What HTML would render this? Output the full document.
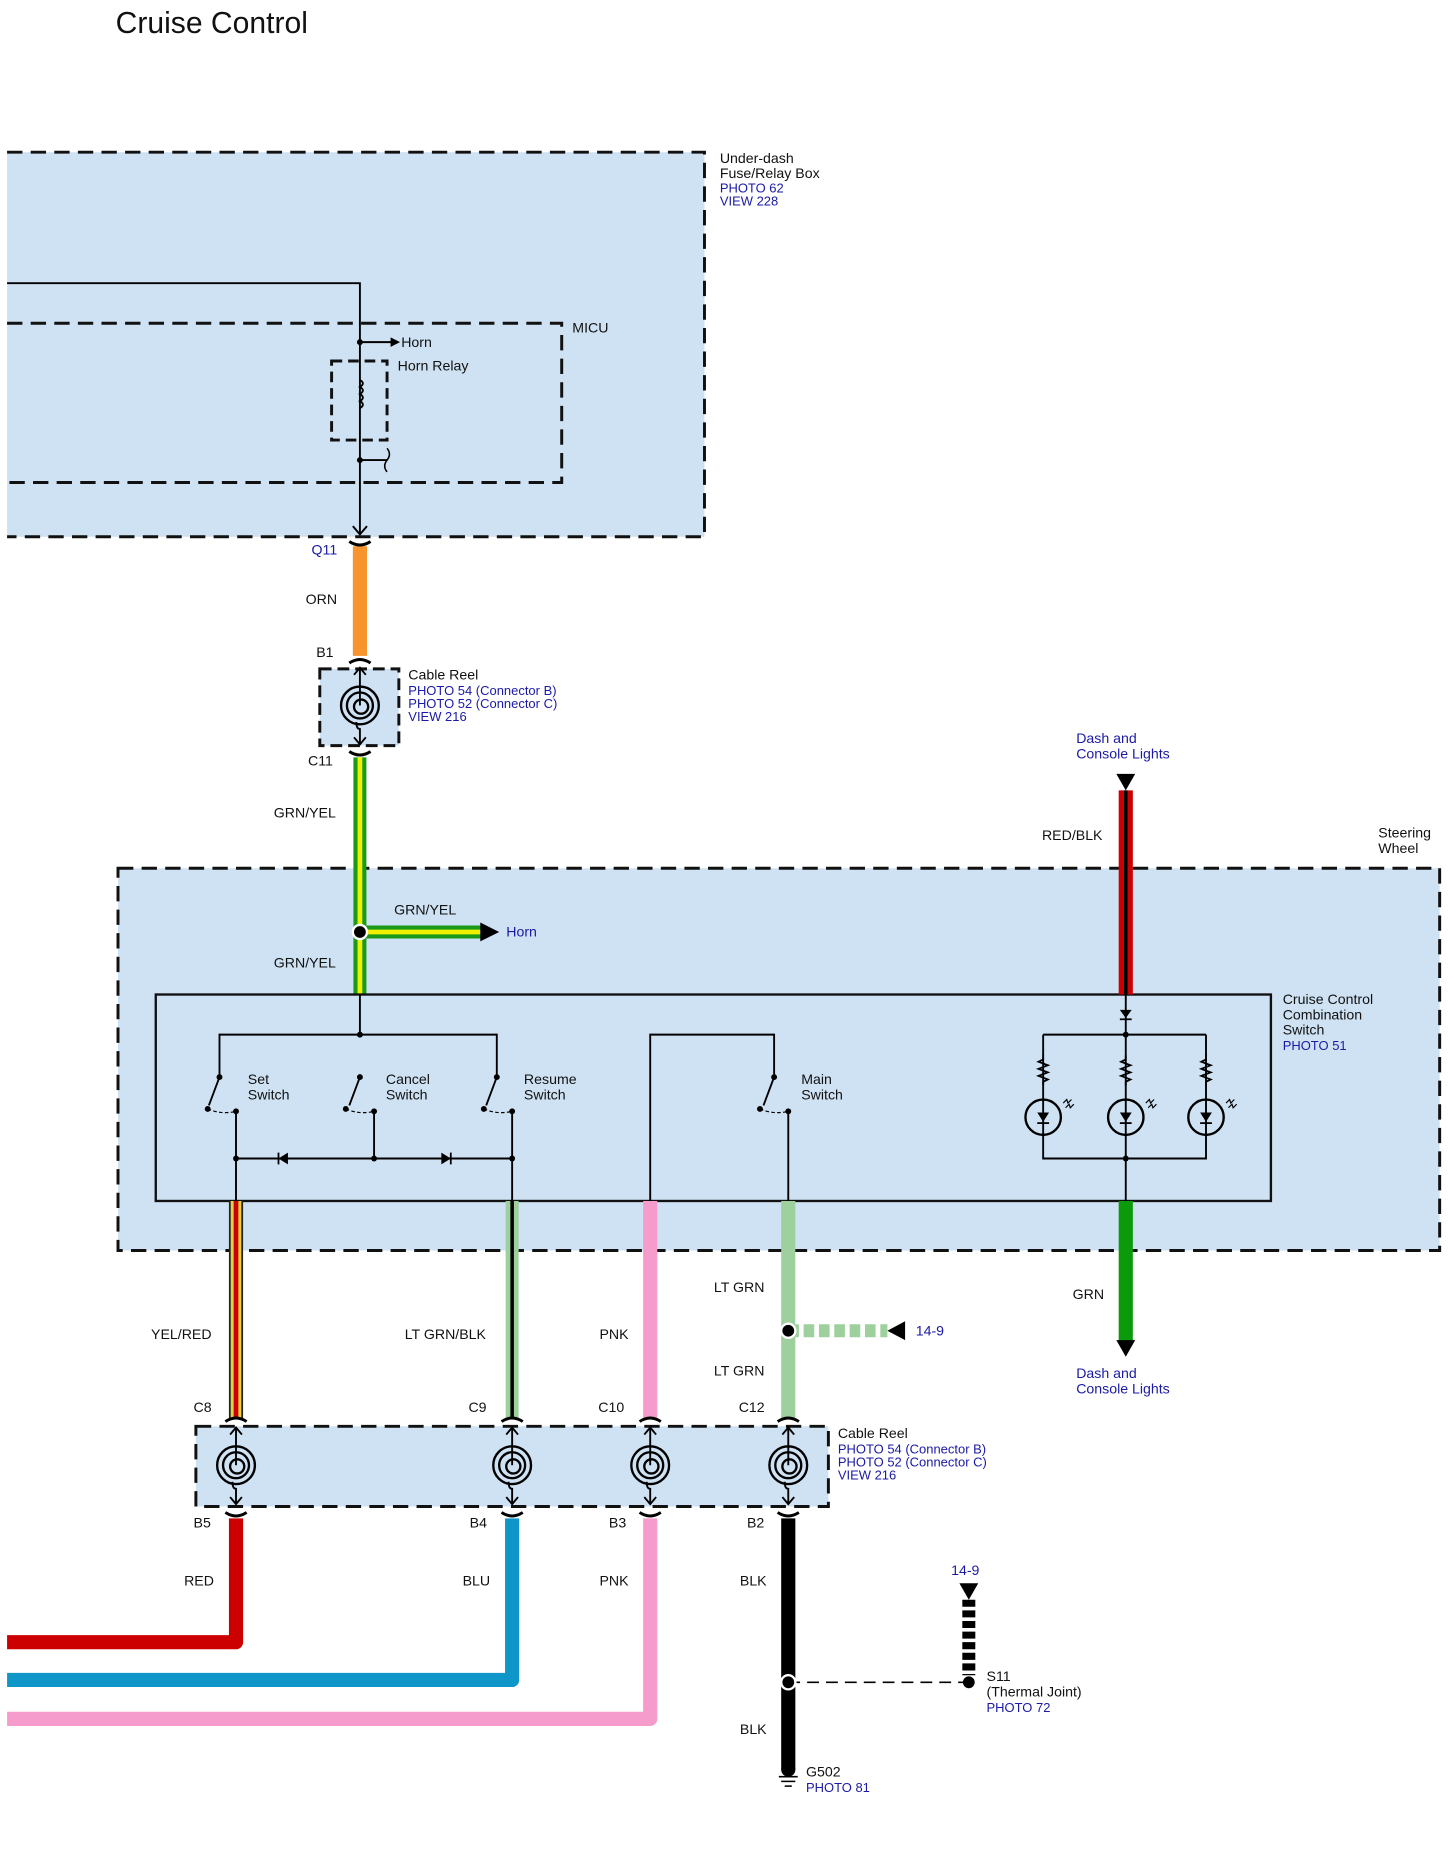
<!DOCTYPE html>
<html><head><meta charset="utf-8"><style>
html,body{margin:0;padding:0;background:#fff}
svg{display:block}
text{font-family:"Liberation Sans",sans-serif;font-size:12px;fill:#111}
.b{fill:#1a1aa6;font-size:11px}
.bb{fill:#1a1aa6}
</style></head><body>
<svg width="1455" height="1851" viewBox="0 0 1233 1569" preserveAspectRatio="none" xmlns="http://www.w3.org/2000/svg">
<defs>
<g id="reel">
<circle r="16" fill="none" stroke="#000" stroke-width="2"/>
<circle r="11" fill="none" stroke="#000" stroke-width="2"/>
<circle cx="1" cy="1" r="6" fill="none" stroke="#000" stroke-width="2"/>
<line x1="0" y1="-32" x2="0" y2="0" stroke="#000" stroke-width="1.6"/>
<path d="M-5,-26 L0,-32 L5,-26" fill="none" stroke="#000" stroke-width="1.6"/>
<path d="M-3,14 Q-3,20 0,20 L0,33" fill="none" stroke="#000" stroke-width="1.6"/>
<path d="M-5,27 L0,33 L5,27" fill="none" stroke="#000" stroke-width="1.6"/>
</g>
<g id="cup"><path d="M-9,-3 Q0,3 9,-3" fill="none" stroke="#000" stroke-width="2.5"/></g>
<g id="lamp">
<circle r="15" fill="none" stroke="#000" stroke-width="2"/>
<path d="M-5,-4 L5,-4 L0,4 Z" fill="#000"/><line x1="-5" y1="5" x2="5" y2="5" stroke="#000" stroke-width="1.5"/>
<path d="M17,-12 l3,-3 l1,3 l3,-3 M19,-8 l3,-3 l1,3 l3,-3" fill="none" stroke="#000" stroke-width="1"/>
</g>
<g id="res"><path d="M0,0 l0,4 l-4,2 l8,3 l-8,3 l8,3 l-8,3 l8,3 l-4,2 l0,3" fill="none" stroke="#000" stroke-width="1.5"/></g>
</defs>

<text x="98" y="28" style="font-size:25.5px">Cruise Control</text>

<!-- fuse box -->
<rect x="6" y="129" width="591" height="326" fill="#cfe2f3"/>
<path d="M6,129 H597 V455 H6" fill="none" stroke="#111" stroke-width="2.5" stroke-dasharray="13,7"/>
<text x="610" y="138">Under-dash</text>
<rect x="608" y="141" width="95" height="13" fill="#fff"/>
<text x="610" y="151">Fuse/Relay Box</text>
<text x="610" y="163" class="b">PHOTO 62</text>
<text x="610" y="174" class="b">VIEW 228</text>
<path d="M6,274 H476 V409 H6" fill="none" stroke="#111" stroke-width="2.5" stroke-dasharray="13,7"/>
<text x="485" y="282">MICU</text>
<path d="M6,240 H305 V453" fill="none" stroke="#000" stroke-width="1.6"/>
<path d="M299,446 L305,453 L311,446" fill="none" stroke="#000" stroke-width="1.6"/>
<circle cx="305" cy="290" r="2.5"/>
<line x1="305" y1="290" x2="332" y2="290" stroke="#000" stroke-width="1.6"/>
<path d="M331,286 L339,290 L331,294Z"/>
<text x="340" y="294">Horn</text>
<rect x="281" y="306" width="47" height="67" fill="none" stroke="#111" stroke-width="2.5" stroke-dasharray="9,5"/>
<text x="337" y="314">Horn Relay</text>
<path d="M305,322 q5,3 0,6 q5,3 0,6 q5,3 0,6 q5,3 0,6" fill="none" stroke="#000" stroke-width="1.6"/>
<circle cx="305" cy="390" r="2.5"/>
<line x1="305" y1="390" x2="328" y2="390" stroke="#000" stroke-width="1.6"/>
<path d="M328,380 q4,5 0,10 q-4,5 0,10" fill="none" stroke="#000" stroke-width="1.3"/>

<text x="264" y="470" class="bb">Q11</text>
<line x1="305" y1="463" x2="305" y2="556" stroke="#f7942d" stroke-width="12"/>
<use href="#cup" x="305" y="462"/>
<text x="259" y="512">ORN</text>
<text x="268" y="557">B1</text>
<use href="#cup" transform="translate(305,559) scale(1,-1)"/>
<rect x="271" y="567" width="67" height="65" fill="#cfe2f3" stroke="#111" stroke-width="2.5" stroke-dasharray="10,5"/>
<use href="#reel" x="305" y="598"/>
<text x="346" y="576">Cable Reel</text>
<text x="346" y="589" class="b">PHOTO 54 (Connector B)</text>
<text x="346" y="600" class="b">PHOTO 52 (Connector C)</text>
<text x="346" y="611" class="b">VIEW 216</text>
<use href="#cup" x="305" y="640"/>
<text x="261" y="649">C11</text>
<text x="232" y="693">GRN/YEL</text>

<!-- steering wheel -->
<rect x="100" y="736" width="1120" height="324" fill="#cfe2f3" stroke="#111" stroke-width="2.5" stroke-dasharray="13,7"/>
<text x="1168" y="710">Steering</text>
<text x="1168" y="723">Wheel</text>
<line x1="305" y1="642" x2="305" y2="843" stroke="#1a9a1a" stroke-width="11"/>
<line x1="305" y1="642" x2="305" y2="843" stroke="#f0f000" stroke-width="4"/>
<line x1="305" y1="790" x2="408" y2="790" stroke="#1a9a1a" stroke-width="11"/>
<line x1="305" y1="790" x2="408" y2="790" stroke="#f0f000" stroke-width="4"/>
<path d="M407,782 L423,790 L407,798Z"/>
<circle cx="305" cy="790" r="7" fill="#fff"/><circle cx="305" cy="790" r="5"/>
<text x="334" y="775">GRN/YEL</text>
<text x="429" y="794" class="bb">Horn</text>
<text x="232" y="820">GRN/YEL</text>

<rect x="132" y="843" width="945" height="175" fill="none" stroke="#111" stroke-width="2"/>
<text x="1087" y="851">Cruise Control</text>
<text x="1087" y="864">Combination</text>
<text x="1087" y="877">Switch</text>
<text x="1087" y="890" class="b">PHOTO 51</text>

<g stroke="#000" stroke-width="1.6" fill="none">
<path d="M305,843 V877 M186,913 V877 H421 V913"/>
<path d="M186,913 L177,937 M305,913 L296,937 M421,913 L412,937 M656,913 L647,937"/>
<path d="M176,940 Q188,945 200,942 M293,940 Q305,945 317,942 M410,940 Q422,945 434,942 M644,940 Q656,945 668,942" stroke-dasharray="3,2" stroke-width="1"/>
<path d="M200,942 V1018 M317,942 V982 M434,942 V1018 M200,982 H434"/>
<path d="M551,1018 V877 H656 V913 M668,942 V1018"/>
<path d="M954,843 V1018 M884,877 H1022 M884,877 V982 H1022 V877"/>
</g>
<g>
<circle cx="305" cy="877" r="2.5"/>
<circle cx="186" cy="913" r="2.5"/><circle cx="305" cy="913" r="2.5"/><circle cx="421" cy="913" r="2.5"/><circle cx="656" cy="913" r="2.5"/>
<circle cx="176" cy="940" r="2.5"/><circle cx="200" cy="942" r="2.5"/><circle cx="293" cy="940" r="2.5"/><circle cx="317" cy="942" r="2.5"/>
<circle cx="410" cy="940" r="2.5"/><circle cx="434" cy="942" r="2.5"/><circle cx="644" cy="940" r="2.5"/><circle cx="668" cy="942" r="2.5"/>
<circle cx="200" cy="982" r="2.5"/><circle cx="317" cy="982" r="2.5"/><circle cx="434" cy="982" r="2.5"/>
<path d="M236,982 L244,977 L244,987Z"/><line x1="236" y1="977" x2="236" y2="987" stroke="#000" stroke-width="1.5"/>
<path d="M382,982 L374,977 L374,987Z"/><line x1="382" y1="977" x2="382" y2="987" stroke="#000" stroke-width="1.5"/>
<circle cx="954" cy="877" r="2.5"/><circle cx="954" cy="982" r="2.5"/>
<path d="M949,856 L959,856 L954,863Z"/><line x1="949" y1="864" x2="959" y2="864" stroke="#000" stroke-width="1.5"/>
</g>
<text x="210" y="919">Set</text><text x="210" y="932">Switch</text>
<text x="327" y="919">Cancel</text><text x="327" y="932">Switch</text>
<text x="444" y="919">Resume</text><text x="444" y="932">Switch</text>
<text x="679" y="919">Main</text><text x="679" y="932">Switch</text>
<use href="#res" x="884" y="894"/><use href="#res" x="954" y="894"/><use href="#res" x="1022" y="894"/>
<use href="#lamp" x="884" y="947"/><use href="#lamp" x="954" y="947"/><use href="#lamp" x="1022" y="947"/>

<!-- RED/BLK -->
<text x="912" y="630" class="bb">Dash and</text>
<text x="912" y="643" class="bb">Console Lights</text>
<path d="M946,656 L962,656 L954,670Z"/>
<line x1="954" y1="670" x2="954" y2="843" stroke="#cc0000" stroke-width="12"/>
<line x1="954" y1="670" x2="954" y2="843" stroke="#000" stroke-width="3"/>
<text x="883" y="712">RED/BLK</text>

<!-- GRN -->
<line x1="954" y1="1018" x2="954" y2="1138" stroke="#0a9a0a" stroke-width="12"/>
<path d="M946,1136 L962,1136 L954,1150Z"/>
<text x="909" y="1101">GRN</text>
<text x="912" y="1168" class="bb">Dash and</text>
<text x="912" y="1181" class="bb">Console Lights</text>

<!-- lower wires -->
<line x1="200" y1="1018" x2="200" y2="1202" stroke="#222" stroke-width="12"/>
<line x1="200" y1="1018" x2="200" y2="1202" stroke="#e8d040" stroke-width="9"/>
<line x1="200" y1="1018" x2="200" y2="1202" stroke="#cc0000" stroke-width="4"/>
<line x1="434" y1="1018" x2="434" y2="1202" stroke="#9dd09d" stroke-width="11"/>
<line x1="434" y1="1018" x2="434" y2="1202" stroke="#000" stroke-width="3"/>
<line x1="551" y1="1018" x2="551" y2="1202" stroke="#f59ccc" stroke-width="12"/>
<line x1="668" y1="1018" x2="668" y2="1202" stroke="#9dd09d" stroke-width="12"/>
<line x1="668" y1="1128" x2="752" y2="1128" stroke="#9dd09d" stroke-width="11" stroke-dasharray="9,4"/>
<path d="M767,1120 L752,1128 L767,1136Z"/>
<circle cx="668" cy="1128" r="7" fill="#fff"/><circle cx="668" cy="1128" r="5"/>
<text x="776" y="1132" class="bb">14-9</text>
<text x="605" y="1095">LT GRN</text>
<text x="605" y="1166">LT GRN</text>
<text x="128" y="1135">YEL/RED</text>
<text x="343" y="1135">LT GRN/BLK</text>
<text x="508" y="1135">PNK</text>
<text x="164" y="1197">C8</text><text x="397" y="1197">C9</text><text x="507" y="1197">C10</text><text x="626" y="1197">C12</text>
<use href="#cup" transform="translate(200,1202) scale(1,-1)"/><use href="#cup" transform="translate(434,1202) scale(1,-1)"/>
<use href="#cup" transform="translate(551,1202) scale(1,-1)"/><use href="#cup" transform="translate(668,1202) scale(1,-1)"/>

<rect x="166" y="1209" width="536" height="68" fill="#cfe2f3" stroke="#111" stroke-width="2.5" stroke-dasharray="13,7"/>
<use href="#reel" x="200" y="1242"/><use href="#reel" x="434" y="1242"/><use href="#reel" x="551" y="1242"/><use href="#reel" x="668" y="1242"/>
<text x="710" y="1219">Cable Reel</text>
<text x="710" y="1232" class="b">PHOTO 54 (Connector B)</text>
<text x="710" y="1243" class="b">PHOTO 52 (Connector C)</text>
<text x="710" y="1254" class="b">VIEW 216</text>

<use href="#cup" x="200" y="1285"/><use href="#cup" x="434" y="1285"/><use href="#cup" x="551" y="1285"/><use href="#cup" x="668" y="1285"/>
<text x="164" y="1295">B5</text><text x="398" y="1295">B4</text><text x="516" y="1295">B3</text><text x="633" y="1295">B2</text>
<path d="M200,1287 V1392 H6" fill="none" stroke="#cc0000" stroke-width="12" stroke-linejoin="round"/>
<path d="M434,1287 V1424 H6" fill="none" stroke="#0e96c8" stroke-width="12" stroke-linejoin="round"/>
<path d="M551,1287 V1457 H6" fill="none" stroke="#f59ccc" stroke-width="12" stroke-linejoin="round"/>
<line x1="668" y1="1287" x2="668" y2="1500" stroke="#000" stroke-width="12"/>
<text x="156" y="1344">RED</text><text x="392" y="1344">BLU</text><text x="508" y="1344">PNK</text>
<text x="627" y="1344">BLK</text><text x="627" y="1470">BLK</text>
<line x1="668" y1="1426" x2="821" y2="1426" stroke="#000" stroke-width="1.3" stroke-dasharray="10,6"/>
<circle cx="668" cy="1426" r="7" fill="#fff"/><circle cx="668" cy="1426" r="5"/>
<text x="806" y="1335" class="bb">14-9</text>
<path d="M813,1342 L829,1342 L821,1356Z"/>
<line x1="821" y1="1356" x2="821" y2="1420" stroke="#000" stroke-width="11" stroke-dasharray="6,3"/>
<circle cx="821" cy="1426" r="5"/>
<text x="836" y="1425">S11</text>
<text x="836" y="1438">(Thermal Joint)</text>
<text x="836" y="1451" class="b">PHOTO 72</text>
<circle cx="668" cy="1500" r="6"/>
<g stroke="#000" stroke-width="1.3"><line x1="660" y1="1506" x2="676" y2="1506"/><line x1="662" y1="1510" x2="674" y2="1510"/><line x1="665" y1="1514" x2="671" y2="1514"/></g>
<text x="683" y="1506">G502</text>
<text x="683" y="1519" class="b">PHOTO 81</text>
</svg>
</body></html>
